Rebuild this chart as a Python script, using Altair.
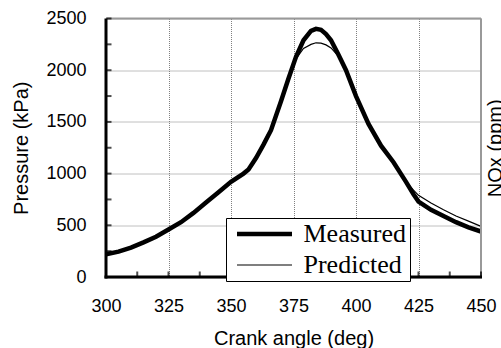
import altair as alt
import pandas as pd

# ---- data ----
angle = [300, 305, 310, 315, 320, 325, 330, 335, 340, 345, 350, 355, 357, 360, 363,
         366, 370, 373, 376, 379, 382, 384, 386, 388, 390, 393, 396, 400, 405, 410,
         415, 420, 423, 425, 430, 435, 440, 445, 450]
measured = [220, 245, 285, 335, 390, 460, 530, 620, 720, 820, 920, 1000, 1040, 1150, 1280,
            1420, 1700, 1920, 2130, 2290, 2380, 2400, 2390, 2350, 2290, 2150, 2000, 1750, 1480, 1270,
            1110, 920, 800, 730, 650, 590, 530, 480, 440]
predicted = [220, 245, 285, 335, 390, 460, 530, 620, 720, 820, 920, 1005, 1050, 1165, 1300,
             1440, 1720, 1930, 2110, 2210, 2250, 2265, 2262, 2245, 2215, 2135, 1990, 1750, 1480, 1270,
             1110, 920, 840, 790, 715, 650, 590, 540, 490]
series_names = ["Measured", "Predicted"]
x_ticks = [300, 325, 350, 375, 400, 425, 450]
y_ticks = [0, 500, 1000, 1500, 2000, 2500]
x_minor = [300, 312.5, 325, 337.5, 350, 362.5, 375, 387.5, 400, 412.5, 425, 437.5, 450]
y_minor = [0, 250, 500, 750, 1000, 1250, 1500, 1750, 2000, 2250, 2500]

rows = []
for a, m in zip(angle, measured):
    rows.append({"angle": a, "value": m, "series": "Measured"})
for a, p in zip(angle, predicted):
    rows.append({"angle": a, "value": p, "series": "Predicted"})
df = pd.DataFrame(rows)

W, H = 375, 258.5
xs = alt.Scale(domain=[x_ticks[0], x_ticks[-1]], nice=False, zero=False)
ys = alt.Scale(domain=[y_ticks[0], y_ticks[-1]], nice=False, zero=False)

x_axis = alt.Axis(values=x_ticks, title="Crank angle (deg)", grid=True, domain=False,
                  ticks=False, labelPadding=20, titlePadding=13, format="d", labelFlush=False)
one = alt.InlineData(values=[{"k": 1}])

lines = alt.Chart(df).mark_line(color="black").encode(
    x=alt.X("angle:Q", scale=xs, axis=x_axis),
    y=alt.Y("value:Q", scale=ys,
            axis=alt.Axis(values=y_ticks, title="Pressure (kPa)", grid=True, domain=False,
                          ticks=False, labelPadding=20, titlePadding=14, format="d",
                          labelFlush=False)),
    strokeWidth=alt.StrokeWidth(
        "series:N",
        scale=alt.Scale(domain=series_names, range=[4.5, 1.2]),
        legend=alt.Legend(
            title=None, orient="none", legendX=120, legendY=199.5,
            symbolType="M-6,0H6", symbolSize=84, symbolOffset=22.5,
            symbolStrokeColor="black", symbolFillColor="white",
            labelFont="Liberation Serif", labelFontSize=26, labelColor="black",
            labelOffset=26, labelLimit=300,
            padding=3, rowPadding=5,
            strokeColor="black", fillColor="white",
        ),
    ),
)

# plot frame: gray top/right, black left/bottom axis lines
frame_top = alt.Chart(one).mark_rect(color="#999999").encode(
    x=alt.value(0), x2=alt.value(W), y=alt.value(-1), y2=alt.value(1))
frame_right = alt.Chart(one).mark_rect(color="#999999").encode(
    x=alt.value(W - 1), x2=alt.value(W + 1), y=alt.value(0), y2=alt.value(H))
axis_bottom = alt.Chart(one).mark_rect(color="black").encode(
    x=alt.value(-1.5), x2=alt.value(W + 1), y=alt.value(H - 1.5), y2=alt.value(H + 1.5))
axis_left = alt.Chart(one).mark_rect(color="black").encode(
    x=alt.value(-1.5), x2=alt.value(1.5), y=alt.value(0), y2=alt.value(H + 1.5))

# inward ticks
xt = alt.Chart(pd.DataFrame({"angle": x_minor})).mark_tick(
    color="black", orient="vertical", size=5, thickness=2).encode(
    x=alt.X("angle:Q", scale=xs, axis=x_axis),
    y=alt.value(H - 3),
)
yt = alt.Chart(pd.DataFrame({"value": y_minor})).mark_tick(
    color="black", orient="horizontal", size=5, thickness=2).encode(
    y=alt.Y("value:Q", scale=ys, axis=None),
    x=alt.value(3),
)

right = alt.Chart(pd.DataFrame({"value": y_ticks})).mark_point(opacity=0).encode(
    y=alt.Y("value:Q", scale=ys,
            axis=alt.Axis(orient="right", title="NOx (ppm)", labels=False, ticks=False,
                          domain=False, grid=False, titleAngle=270, titleBaseline="top",
                          titlePadding=4)),
)

chart = alt.layer(
    lines, frame_top, frame_right, axis_bottom, axis_left, xt, yt, right
).resolve_axis(y="independent").properties(
    width=W, height=H,
    autosize=alt.AutoSizeParams(type="none"),
    padding={"left": 106, "top": 18.5, "right": 20, "bottom": 71},
).configure_view(
    stroke=None
).configure_axis(
    labelFont="Liberation Sans", labelFontSize=18, labelColor="black",
    titleFont="Liberation Sans", titleFontSize=20, titleFontWeight="normal", titleColor="black",
    gridColor="#808080", gridDash=[1, 1], gridWidth=1,
)

chart.save("out.html", embed_options={"renderer": "svg", "actions": False})
